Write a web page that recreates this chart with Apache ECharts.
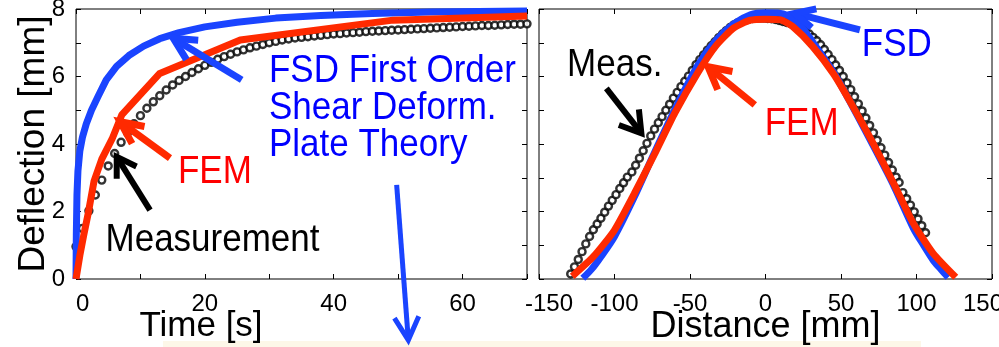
<!DOCTYPE html>
<html>
<head>
<meta charset="utf-8">
<script src="https://cdn.jsdelivr.net/npm/echarts@6/dist/echarts.min.js"></script>
<style>
  html, body { margin: 0; padding: 0; background: #ffffff; }
  #c { width: 999px; height: 347px; }
</style>
</head>
<body>
<div id="c"></div>
<script>
// ---- Deflection over time (left panel) ----
// measured deflection, one sample per second starting at 0 s
const timeMeasured = [0.96, 1.50, 2.02, 2.49, 2.93, 3.35, 3.72, 4.05, 4.33, 4.60,
  4.84, 5.06, 5.25, 5.43, 5.60, 5.75, 5.88, 6.00, 6.12, 6.23,
  6.33, 6.42, 6.51, 6.59, 6.66, 6.73, 6.79, 6.85, 6.90, 6.95,
  7.00, 7.04, 7.08, 7.11, 7.14, 7.16, 7.18, 7.20, 7.22, 7.24,
  7.26, 7.27, 7.29, 7.30, 7.31, 7.33, 7.34, 7.35, 7.36, 7.37,
  7.38, 7.39, 7.40, 7.41, 7.42, 7.43, 7.44, 7.45, 7.46, 7.47,
  7.48, 7.49, 7.50, 7.51, 7.51, 7.52, 7.53, 7.54, 7.55, 7.55, 7.56];
// FEM result [time s, deflection mm]
const timeFEM = [[0, 0], [0.6, 0.7], [1.2, 1.3], [1.9, 1.95], [2.8, 2.9], [4.0, 3.55],
  [5.6, 4.15], [7.1, 4.86], [13.0, 6.09], [18.7, 6.54], [25.5, 7.08], [49.2, 7.67], [70, 7.79]];
// first order shear deformation plate theory [time s, deflection mm]
const timeFSD = [[0, 0], [0.05, 1.3], [0.15, 2.5], [0.3, 3.2], [0.6, 3.8], [1.0, 4.2],
  [1.6, 4.6], [2.4, 5.0], [3.4, 5.4], [4.7, 5.9], [6.3, 6.3], [8.2, 6.62], [10.5, 6.9],
  [13, 7.12], [16, 7.3], [20, 7.47], [25, 7.61], [31, 7.73], [38, 7.81], [46, 7.87],
  [55, 7.91], [70, 7.94]];

// ---- Deflection profile across the plate (right panel) ----
// measured [distance mm, deflection mm]; three scan segments
const distMeasured = [
  [-129, 0.15], [-126.5, 0.36], [-124, 0.58], [-121.5, 0.81], [-119, 1.04], [-116.5, 1.26],
  [-114, 1.46], [-111.5, 1.63], [-109, 1.80], [-106.5, 1.98], [-104, 2.16], [-101.5, 2.33],
  [-99, 2.50], [-96.5, 2.68], [-94, 2.85], [-91.5, 3.02],
  [-88.5, 3.17], [-86, 3.37], [-83.5, 3.58], [-81, 3.80], [-78.5, 4.02], [-76, 4.24],
  [-73.5, 4.44], [-71, 4.63], [-68.5, 4.81], [-66, 5.00], [-63.5, 5.18], [-61, 5.36],
  [-58.5, 5.53], [-56, 5.70], [-53.5, 5.86], [-51, 6.01], [-48.5, 6.18], [-46, 6.35],
  [-43.5, 6.50], [-41, 6.64], [-38.5, 6.78], [-36, 6.91], [-33.5, 7.03], [-31, 7.15],
  [-28.5, 7.26], [-26, 7.36], [-23.5, 7.45], [-21, 7.53], [-18.5, 7.59], [-16, 7.64],
  [-13.5, 7.68], [-11, 7.70], [-8.5, 7.72], [-6, 7.73], [-3.5, 7.73], [-1, 7.73],
  [1.5, 7.72], [4, 7.71], [6.5, 7.69], [9, 7.66], [11.5, 7.63], [14, 7.60], [16.5, 7.57],
  [19, 7.53], [21.5, 7.49], [24, 7.43], [26.5, 7.35], [29, 7.26], [31.5, 7.16], [34, 7.06],
  [36.5, 6.94], [39, 6.80], [41.5, 6.65], [44, 6.50], [46.5, 6.34], [49, 6.18], [51.5, 6.00],
  [54, 5.81], [56.5, 5.61], [59, 5.40], [61.5, 5.19], [64, 4.98], [66.5, 4.77], [69, 4.55],
  [71.5, 4.33], [74, 4.11], [76.5, 3.89], [79, 3.67], [81.5, 3.45], [84, 3.23], [86.5, 3.02],
  [88.5, 2.86],
  [91, 2.56], [93.5, 2.38], [96, 2.19], [98.5, 1.99], [101, 1.78], [103.5, 1.58], [106, 1.37]];
const distFEM = [[-128, 0.08], [-114, 0.66], [-100, 1.45], [-87, 2.52], [-73, 3.74], [-60, 4.92],
  [-45, 6.1], [-33, 6.9], [-21, 7.44], [-10, 7.67], [0, 7.70], [10, 7.68], [18, 7.48], [31, 6.9],
  [45, 6.08], [58, 5.1], [71, 4.04], [85, 2.82], [98, 1.64], [111, 0.76], [126, 0.05]];
const distFSD = [[-121, 0.02], [-115, 0.3], [-109, 0.66], [-100, 1.26], [-87, 2.42], [-74, 3.7],
  [-60, 5.02], [-45, 6.32], [-33, 7.06], [-21, 7.56], [-10, 7.83], [0, 7.89], [8, 7.88],
  [15, 7.8], [20, 7.64], [26, 7.35], [31, 7.04], [45, 6.13], [58, 5.08], [71, 3.98], [85, 2.76],
  [98, 1.5], [105, 0.98], [111, 0.56], [116, 0.3], [121, 0.05]];

// tick labels
const timeTickLabels = [0, 20, 40, 60];
const deflTickLabels = [0, 2, 4, 6, 8];
const distTickLabels = [-150, -100, -50, 0, 50, 100, 150];

// annotation arrows [tail, tip] in data coordinates of each panel
const timeArrows = {
  fsd:  [[25.72, 5.90], [15.10, 7.13]],
  fem:  [[14.59, 3.58], [6.83, 4.66]],
  meas: [[11.49, 2.04], [6.32, 3.62]],
  down: [[49.77, 2.79], [51.58, -1.81]]
};
const distArrows = {
  meas: [[-105.4, 5.65], [-82.2, 4.32]],
  fem:  [[-7.1, 5.16], [-38.1, 6.29]],
  fsd:  [[62.5, 7.38], [19.4, 7.87]]
};
// annotation text anchors (left edge, middle) in data coordinates
const timeNotes = [
  { text: 'FSD First Order', at: [29.95, 6.14] },
  { text: 'Shear Deform.', at: [29.95, 5.05] },
  { text: 'Plate Theory', at: [29.95, 3.95] },
  { text: 'FEM', at: [15.83, 3.16] },
  { text: 'Measurement', at: [4.58, 1.13] }
];
const distNotes = [
  { text: 'Meas.', at: [-131.4, 6.34] },
  { text: 'FEM', at: [-0.5, 4.59] },
  { text: 'FSD', at: [63.8, 6.93] }
];

const FONT = '"Liberation Sans", Arial, Helvetica, sans-serif';
const BLUE_LINE = '#1a44ff';
const RED_LINE = '#ff2a00';
const BLUE_TEXT = '#0000ff';
const RED_TEXT = '#ff0000';

const chart = echarts.init(document.getElementById('c'));

const tickStyle = { show: true, inside: true, length: 5, lineStyle: { color: '#000', width: 1 } };
const labelStyle = { color: '#000', fontSize: 24, fontFamily: FONT };
const hiddenLine = { show: false, onZero: false };
const markerStyle = { color: '#ffffff', borderColor: '#000000', borderWidth: 2.4 };

function mirrorAxis(gridIndex, position, min, max, interval) {
  return {
    gridIndex, type: 'value', position, min, max, interval,
    axisLine: hiddenLine, axisTick: tickStyle,
    axisLabel: { show: false }, splitLine: { show: false }
  };
}

const option = {
  backgroundColor: '#ffffff',
  animation: false,
  grid: [
    { left: 76, top: 9, width: 451, height: 270, show: true, borderColor: '#000', borderWidth: 1,
      backgroundColor: 'transparent', containLabel: false, outerBoundsMode: 'none' },
    { left: 539, top: 9, width: 453, height: 270, show: true, borderColor: '#000', borderWidth: 1,
      backgroundColor: 'transparent', containLabel: false, outerBoundsMode: 'none' }
  ],
  xAxis: [
    {
      gridIndex: 0, type: 'value', position: 'bottom', min: 0, max: 70, interval: 10,
      axisLine: hiddenLine, axisTick: tickStyle, splitLine: { show: false },
      axisLabel: Object.assign({}, labelStyle, {
        margin: 13, alignMinLabel: 'left',
        formatter: v => (timeTickLabels.includes(v) ? String(v) : '')
      }),
      name: 'Time [s]', nameLocation: 'middle', nameGap: 30, nameMoveOverlap: false,
      nameTextStyle: { color: '#000', fontSize: 35, fontFamily: FONT, padding: [0, 201, 0, 0],
        verticalAlign: 'top' }
    },
    mirrorAxis(0, 'top', 0, 70, 10),
    {
      gridIndex: 1, type: 'value', position: 'bottom', min: -150, max: 150, interval: 50,
      axisLine: hiddenLine, axisTick: tickStyle, splitLine: { show: false },
      axisLabel: Object.assign({}, labelStyle, {
        margin: 13,
        formatter: v => {
          if (!distTickLabels.includes(v)) return '';
          if (v === distTickLabels[0]) return '{lo|' + v + '}';
          if (v === distTickLabels[distTickLabels.length - 1]) return '{hi|' + v + '}';
          return String(v);
        },
        rich: {
          lo: { color: '#000', fontSize: 24, fontFamily: FONT, padding: [0, 0, 0, 20] },
          hi: { color: '#000', fontSize: 24, fontFamily: FONT, padding: [0, 18, 0, 0] }
        }
      }),
      name: 'Distance [mm]', nameLocation: 'middle', nameGap: 30, nameMoveOverlap: false,
      nameTextStyle: { color: '#000', fontSize: 36, fontFamily: FONT, verticalAlign: 'top' }
    },
    mirrorAxis(1, 'top', -150, 150, 50)
  ],
  yAxis: [
    {
      gridIndex: 0, type: 'value', position: 'left', min: 0, max: 8, interval: 1,
      axisLine: hiddenLine, axisTick: tickStyle, splitLine: { show: false },
      axisLabel: Object.assign({}, labelStyle, {
        margin: 11,
        formatter: v => (deflTickLabels.includes(v) ? String(v) : '')
      }),
      name: 'Deflection [mm]', nameLocation: 'middle', nameGap: 24, nameRotate: 90,
      nameMoveOverlap: false,
      nameTextStyle: { color: '#000', fontSize: 37, fontFamily: FONT }
    },
    mirrorAxis(0, 'right', 0, 8, 1),
    mirrorAxis(1, 'left', 0, 8, 1),
    mirrorAxis(1, 'right', 0, 8, 1)
  ],
  series: [
    {
      name: 'Measurement', type: 'scatter', xAxisIndex: 0, yAxisIndex: 0, z: 2,
      data: timeMeasured.map((v, i) => [i, v]),
      symbol: 'circle', symbolSize: 7, itemStyle: markerStyle
    },
    {
      name: 'FSD', type: 'line', xAxisIndex: 0, yAxisIndex: 0, z: 3,
      data: timeFSD, showSymbol: false, smooth: false,
      lineStyle: { color: BLUE_LINE, width: 7, join: 'round' }
    },
    {
      name: 'FEM', type: 'line', xAxisIndex: 0, yAxisIndex: 0, z: 4,
      data: timeFEM, showSymbol: false,
      lineStyle: { color: RED_LINE, width: 7, join: 'round' }
    },
    {
      name: 'Meas.', type: 'scatter', xAxisIndex: 2, yAxisIndex: 2, z: 2,
      data: distMeasured,
      symbol: 'circle', symbolSize: 7, itemStyle: markerStyle
    },
    {
      name: 'FSD profile', type: 'line', xAxisIndex: 2, yAxisIndex: 2, z: 3,
      data: distFSD, showSymbol: false, smooth: 0.3,
      lineStyle: { color: BLUE_LINE, width: 7 }
    },
    {
      name: 'FEM profile', type: 'line', xAxisIndex: 2, yAxisIndex: 2, z: 4,
      data: distFEM, showSymbol: false, smooth: 0.2,
      lineStyle: { color: RED_LINE, width: 7 }
    }
  ]
};

chart.setOption(option);

// ---- annotations: arrows and labels placed through the axes' scales ----
function toPx(panel, p) {
  const finder = panel === 0 ? { xAxisIndex: 0, yAxisIndex: 0 } : { xAxisIndex: 2, yAxisIndex: 2 };
  return chart.convertToPixel(finder, p);
}

function arrow(panel, pair, color, width, head, spreadDeg) {
  const p0 = toPx(panel, pair[0]);
  const p1 = toPx(panel, pair[1]);
  const a = Math.atan2(p1[1] - p0[1], p1[0] - p0[0]);
  const s = spreadDeg * Math.PI / 180;
  const l = [p1[0] - head * Math.cos(a - s), p1[1] - head * Math.sin(a - s)];
  const r = [p1[0] - head * Math.cos(a + s), p1[1] - head * Math.sin(a + s)];
  const shaftEnd = [p1[0] - width * 0.6 * Math.cos(a), p1[1] - width * 0.6 * Math.sin(a)];
  return [
    { type: 'polyline', z: 20, shape: { points: [p0, shaftEnd] },
      style: { stroke: color, lineWidth: width, fill: null, lineCap: 'butt' } },
    { type: 'polyline', z: 20, shape: { points: [l, p1, r] },
      style: { stroke: color, lineWidth: width, fill: null, lineCap: 'butt', lineJoin: 'miter' } }
  ];
}

function note(panel, item, color, size) {
  const p = toPx(panel, item.at);
  return {
    type: 'text', z: 21, x: p[0], y: p[1], scaleY: 1.1,
    style: { text: item.text, fill: color, font: size + 'px ' + FONT,
      align: 'left', verticalAlign: 'middle' }
  };
}

const graphics = [];
// soft strip along the bottom edge
graphics.push({ type: 'rect', z: 0, shape: { x: 163, y: 341, width: 758, height: 6 },
  style: { fill: '#fdf7e8' } });

graphics.push(...arrow(0, timeArrows.fsd, BLUE_LINE, 7, 25, 27));
graphics.push(...arrow(0, timeArrows.fem, RED_LINE, 7, 25, 25));
graphics.push(...arrow(0, timeArrows.meas, '#000000', 6, 22, 32));
graphics.push(...arrow(0, timeArrows.down, BLUE_LINE, 5, 26, 28));
graphics.push(...arrow(1, distArrows.meas, '#000000', 6, 24, 32));
graphics.push(...arrow(1, distArrows.fem, RED_LINE, 7, 25, 28));
graphics.push(...arrow(1, distArrows.fsd, BLUE_LINE, 7, 22, 26));

timeNotes.forEach((n, i) => {
  const color = i < 3 ? BLUE_TEXT : (n.text === 'FEM' ? RED_TEXT : '#000000');
  graphics.push(note(0, n, color, 35));
});
distNotes.forEach(n => {
  const color = n.text === 'FSD' ? BLUE_TEXT : (n.text === 'FEM' ? RED_TEXT : '#000000');
  graphics.push(note(1, n, color, 35));
});

chart.setOption({ graphic: graphics });
</script>
</body>
</html>
